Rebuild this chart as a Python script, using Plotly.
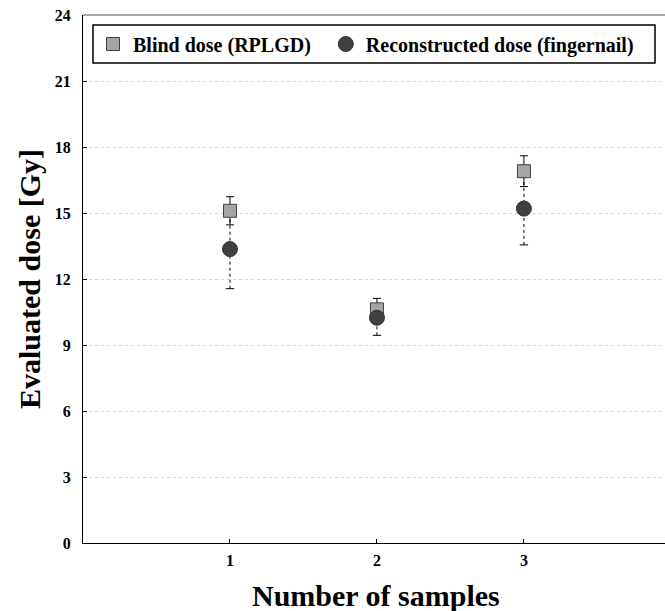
import plotly.graph_objects as go

samples = [1, 2, 3]
blind_dose = [15.1, 10.62, 16.9]
blind_err = [0.64, 0.5, 0.7]
recon_dose = [13.36, 10.24, 15.2]
recon_err = [1.8, 0.8, 1.65]
y_ticks = [0, 3, 6, 9, 12, 15, 18, 21, 24]

SERIF = "Liberation Serif"
PW, PH, L, T = 582, 528, 83, 15


def px(xp):
    return (xp - L) / PW


def py(yp):
    return (T + PH - yp) / PH


fig = go.Figure()

# dashed error bars for reconstructed dose
for x, v, e in zip(samples, recon_dose, recon_err):
    fig.add_trace(go.Scatter(
        x=[x, x], y=[v - e, v + e], mode="lines",
        line=dict(color="black", width=1, dash="3px,3px"),
        showlegend=False, hoverinfo="skip"))
fig.add_trace(go.Scatter(
    x=samples, y=[v - e for v, e in zip(recon_dose, recon_err)], mode="markers",
    marker=dict(symbol="line-ew", size=6, line=dict(color="black", width=1)),
    showlegend=False, hoverinfo="skip"))

fig.add_trace(go.Scatter(
    x=samples, y=blind_dose, mode="markers", name="<b>Blind dose (RPLGD)</b>&nbsp;&nbsp;",
    marker=dict(symbol="square", size=13, color="#a5a5a5",
                line=dict(color="#404040", width=1)),
    error_y=dict(type="data", array=blind_err, visible=True,
                 color="black", thickness=1, width=4)))

fig.add_trace(go.Scatter(
    x=samples, y=recon_dose, mode="markers", name="<b>Reconstructed dose (fingernail)</b>",
    marker=dict(symbol="circle", size=15, color="#404040",
                line=dict(color="#303030", width=1))))

fig.update_layout(
    width=665, height=611,
    margin=dict(l=L, r=0, t=T, b=611 - T - PH),
    plot_bgcolor="white", paper_bgcolor="white",
    font=dict(family=SERIF, color="black"),
    legend=dict(
        orientation="h", x=px(93), y=py(44), xanchor="left", yanchor="middle",
        borderwidth=0, bgcolor="rgba(0,0,0,0)",
        font=dict(family=SERIF, size=20, color="black"),
        itemwidth=30, tracegroupgap=0,
    ),
    annotations=[
        dict(text="<b>Evaluated dose [Gy]</b>", x=px(29), y=py(279), xref="paper", yref="paper",
             showarrow=False, textangle=-90, font=dict(family=SERIF, size=30, color="black"),
             xanchor="center", yanchor="middle"),
        dict(text="<b>Number of samples</b>", x=px(376), y=py(595),
             xref="paper", yref="paper",
             showarrow=False, font=dict(family=SERIF, size=30, color="black"),
             xanchor="center", yanchor="middle"),
    ],
)

fig.update_xaxes(
    range=[0, 3.96], tickvals=samples, ticktext=["<b>%d</b>" % s for s in samples],
    ticks="inside", ticklen=4, tickcolor="black",
    showline=True, linecolor="black", linewidth=1, mirror=False,
    showgrid=False, zeroline=False,
    tickfont=dict(family=SERIF, size=16, color="black"),
    ticklabelstandoff=3,
)
fig.update_yaxes(
    range=[0, 24], tickvals=y_ticks, ticktext=["<b>%d</b>" % t for t in y_ticks],
    ticks="inside", ticklen=4, tickcolor="black",
    showline=True, linecolor="black", linewidth=1,
    showgrid=True, gridcolor="#d4d4d4", griddash="dot", gridwidth=1,
    zeroline=False,
    tickfont=dict(family=SERIF, size=16, color="black"),
    ticklabelstandoff=8,
)
# top border line
fig.add_shape(type="line", xref="paper", yref="paper", x0=0, x1=1, y0=1, y1=1,
              line=dict(color="#555555", width=1))
# legend frame
fig.add_shape(type="rect", xref="paper", yref="paper",
              x0=px(93), x1=px(655), y0=py(63), y1=py(25),
              line=dict(color="black", width=1.5), fillcolor="white", layer="below")

fig.write_html("out.html")
